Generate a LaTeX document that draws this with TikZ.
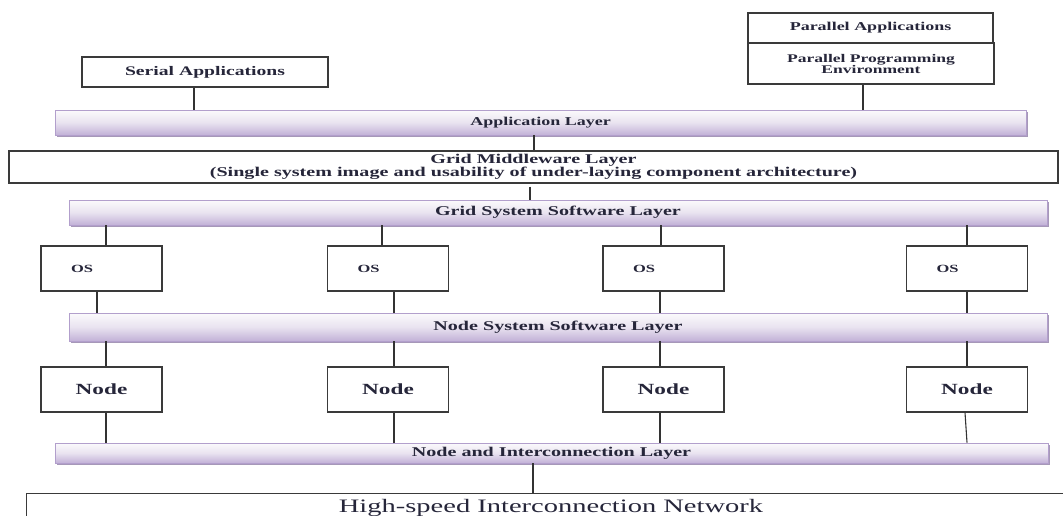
\documentclass[tikz,border=0pt]{standalone}
\usepackage{fontspec}
\setmainfont[FakeStretch=1.5]{Liberation Serif}
\usetikzlibrary{shadows}
\definecolor{boxline}{HTML}{3A3A3A}
\definecolor{txt}{HTML}{26263A}
\definecolor{barline}{HTML}{B29FCC}
\definecolor{bartop}{HTML}{FBFAFC}
\definecolor{barmid}{HTML}{E9E3F0}
\definecolor{barbot}{HTML}{C2B1D7}
\definecolor{barshadow}{HTML}{A698B8}
\definecolor{conncol}{HTML}{333333}
\begin{document}
\begin{tikzpicture}[x=1pt,y=-1pt,
  box/.style={draw=boxline, line width=1.1pt, fill=white, inner sep=0pt, text=txt, align=center},
  layer/.style={draw=barline, line width=0.8pt, top color=bartop, bottom color=barbot, middle color=barmid, inner sep=0pt, text=txt,
    drop shadow={shadow xshift=2pt, shadow yshift=-2pt, fill=barshadow, opacity=1}},
  conn/.style={draw=conncol, line width=1.1pt},
  lf/.style={font=\fontsize{13.4}{11}\selectfont\bfseries},
  osbox/.style={box, minimum width=121pt, minimum height=45pt, text width=61pt, align=left, font=\fontsize{11}{13}\selectfont\bfseries},
  nodebox/.style={box, minimum width=121pt, minimum height=45pt, font=\fontsize{15.5}{17}\selectfont\bfseries},
]
\useasboundingbox (0,0) rectangle (1063,515);
\fill[white] (0,0) rectangle (1063,515);
\clip (0,0) rectangle (1063,515);

% top boxes
\node[box, minimum width=246pt, minimum height=30pt, font=\fontsize{13.1}{15}\selectfont\bfseries] (serial) at (205,72) {Serial Applications};
\node[box, minimum width=245pt, minimum height=30pt, font=\fontsize{12}{14}\selectfont\bfseries] (parA) at (870.5,28) {Parallel Applications};
\node[box, minimum width=246pt, minimum height=41pt, font=\fontsize{11.7}{11}\selectfont\bfseries] (parP) at (871,63.5) {Parallel Programming\\Environment};

% layers
\node[layer, minimum width=971pt, minimum height=25pt, font=\fontsize{12}{14}\selectfont\bfseries] (app) at (540.5,122.5) {Application Layer};
\node[box, minimum width=1049pt, minimum height=32pt, font=\fontsize{13.4}{12}\selectfont\bfseries] (mw) at (533.5,167) {Grid Middleware Layer\\(Single system image and usability of under-laying component architecture)};
\node[layer, minimum width=978pt, minimum height=25pt, lf] (grid) at (558,212.5) {Grid System Software Layer};

\node[osbox] (os1) at (101.5,268.5) {OS};
\node[osbox] (os2) at (388,268.5) {OS};
\node[osbox] (os3) at (663.5,268.5) {OS};
\node[osbox] (os4) at (967,268.5) {OS};

\node[layer, minimum width=978pt, minimum height=28pt, lf] (nss) at (558,327) {Node System Software Layer};

\node[nodebox] (n1) at (101.5,389.5) {Node};
\node[nodebox] (n2) at (388,389.5) {Node};
\node[nodebox] (n3) at (663.5,389.5) {Node};
\node[nodebox] (n4) at (967,389.5) {Node};

\node[layer, minimum width=993pt, minimum height=20pt, lf] (inter) at (551.5,453) {Node and Interconnection Layer};

\node[box, anchor=north west, minimum width=1080pt, minimum height=60pt] (hs) at (26,493) {};
\node[anchor=base, text=txt, inner sep=0pt, font=\fontsize{19}{21}\selectfont] (hstext) at (551,512) {High-speed Interconnection Network};

% connector x positions
\coordinate (cs) at (194,0);
\coordinate (cp) at (863,0);
\coordinate (ca) at (534,0);
\coordinate (cm) at (530,0);
\coordinate (ci) at (533,0);
\coordinate (g1) at (106,0);
\coordinate (g2) at (382,0);
\coordinate (g3) at (661,0);
\coordinate (g4) at (967,0);
\coordinate (o1) at (97,0);
\coordinate (o2) at (394,0);
\coordinate (o3) at (660,0);
\coordinate (o4) at (967,0);
\coordinate (k1) at (106,0);
\coordinate (k4) at (965,0);

\draw[conn] (serial.south -| cs) -- (app.north -| cs);
\draw[conn] (parP.south -| cp) -- (app.north -| cp);
\draw[conn] (app.south -| ca) -- (mw.north -| ca);
\draw[conn, shorten <=3pt] (mw.south -| cm) -- (grid.north -| cm);

\draw[conn] (grid.south -| g1) -- (os1.north -| g1);
\draw[conn] (grid.south -| g2) -- (os2.north -| g2);
\draw[conn] (grid.south -| g3) -- (os3.north -| g3);
\draw[conn] (grid.south -| g4) -- (os4.north -| g4);

\draw[conn] (os1.south -| o1) -- (nss.north -| o1);
\draw[conn] (os2.south -| o2) -- (nss.north -| o2);
\draw[conn] (os3.south -| o3) -- (nss.north -| o3);
\draw[conn] (os4.south -| o4) -- (nss.north -| o4);

\draw[conn] (nss.south -| k1) -- (n1.north -| k1);
\draw[conn] (nss.south -| o2) -- (n2.north -| o2);
\draw[conn] (nss.south -| o3) -- (n3.north -| o3);
\draw[conn] (nss.south -| o4) -- (n4.north -| o4);

\draw[conn] (n1.south -| k1) -- (inter.north -| k1);
\draw[conn] (n2.south -| o2) -- (inter.north -| o2);
\draw[conn] (n3.south -| o3) -- (inter.north -| o3);
\draw[conn] (n4.south -| k4) -- (inter.north -| o4);

\draw[conn] (inter.south -| ci) -- (hs.north -| ci);
\end{tikzpicture}
\end{document}
